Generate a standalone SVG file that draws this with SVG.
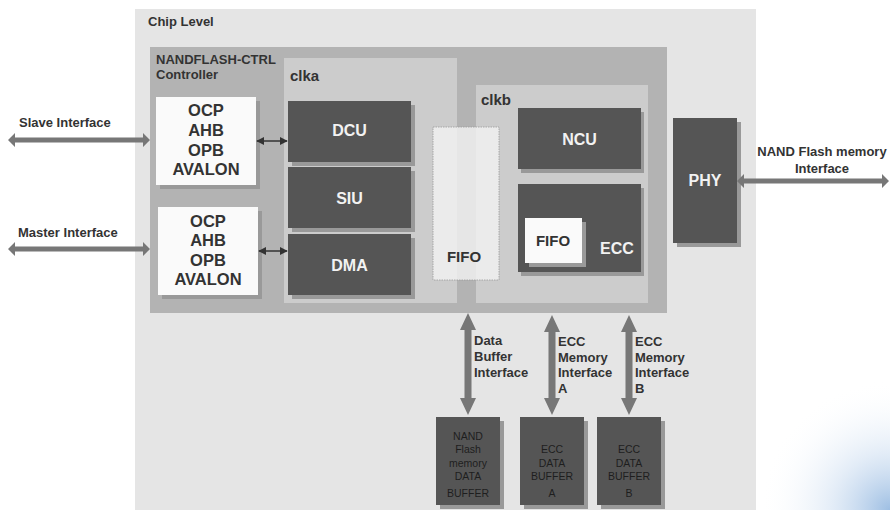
<svg xmlns="http://www.w3.org/2000/svg" width="890" height="510" viewBox="0 0 890 510">
<defs>
<radialGradient id="glow" cx="890" cy="510" r="130" gradientUnits="userSpaceOnUse">
<stop offset="0" stop-color="#8cb3de" stop-opacity="0.85"/>
<stop offset="0.45" stop-color="#c3d7ee" stop-opacity="0.45"/>
<stop offset="1" stop-color="#ffffff" stop-opacity="0"/>
</radialGradient>
<marker id="sa" viewBox="0 0 10 10" refX="9" refY="5" markerWidth="8" markerHeight="8" markerUnits="userSpaceOnUse" orient="auto-start-reverse">
<path d="M0,0 L10,5 L0,10 z" fill="#333"/>
</marker>
</defs>
<style>
text{font-family:"Liberation Sans",Arial,sans-serif;}
.b{font-weight:bold;}
.lbl{font-size:13px;font-weight:bold;fill:#333;}
.dark{fill:#555555;}
.sh{fill:#999999;}
.wt{font-size:16px;font-weight:bold;fill:#f2f2f2;text-anchor:middle;}
.ot{font-size:16.5px;font-weight:bold;fill:#333;text-anchor:middle;}
.ft{font-size:15px;font-weight:bold;fill:#333;text-anchor:middle;}
.bt{font-size:10.5px;fill:#1e1e1e;text-anchor:middle;}
.big{fill:#777777;}
</style>
<rect width="890" height="510" fill="#ffffff"/>
<rect x="756" y="370" width="134" height="140" fill="url(#glow)"/>

<g id="chip">
<rect x="135" y="9" width="621" height="501" fill="#e5e5e5"/>
<text x="148" y="26" class="lbl">Chip Level</text>
</g>

<g id="controller">
<rect x="150" y="47" width="517" height="266" fill="#b3b3b3"/>
<text x="156" y="64" class="lbl">NANDFLASH-CTRL</text>
<text x="156" y="79" class="lbl">Controller</text>
</g>

<g id="clka">
<rect x="284" y="58" width="173" height="245" fill="#cccccc"/>
<text x="290" y="81" class="b" font-size="15" fill="#333">clka</text>
</g>

<g id="clkb">
<rect x="476" y="85" width="172" height="218" fill="#cccccc"/>
<text x="481" y="105" class="b" font-size="15" fill="#333">clkb</text>
</g>

<g id="ocp1">
<rect x="160" y="101" width="100" height="88" class="sh"/>
<rect x="156" y="97" width="100" height="88" fill="#fafafa"/>
<text x="206" y="116" class="ot">OCP</text>
<text x="206" y="136" class="ot">AHB</text>
<text x="206" y="156" class="ot">OPB</text>
<text x="206" y="175" class="ot">AVALON</text>
</g>

<g id="ocp2">
<rect x="162" y="211" width="100" height="88" class="sh"/>
<rect x="158" y="207" width="100" height="88" fill="#fafafa"/>
<text x="208" y="227" class="ot">OCP</text>
<text x="208" y="246" class="ot">AHB</text>
<text x="208" y="266" class="ot">OPB</text>
<text x="208" y="285" class="ot">AVALON</text>
</g>

<g id="dcu">
<rect x="292" y="105" width="123" height="61" class="sh"/>
<rect x="288" y="101" width="123" height="61" class="dark"/>
<text x="349.5" y="136" class="wt">DCU</text>
</g>
<g id="siu">
<rect x="292" y="171" width="123" height="61" class="sh"/>
<rect x="288" y="167" width="123" height="61" class="dark"/>
<text x="349.5" y="204" class="wt">SIU</text>
</g>
<g id="dma">
<rect x="292" y="238" width="123" height="61" class="sh"/>
<rect x="288" y="234" width="123" height="61" class="dark"/>
<text x="349.5" y="271" class="wt">DMA</text>
</g>

<g id="fifo">
<rect x="433" y="127" width="66" height="153" fill="#f2f2f2" fill-opacity="0.8" stroke="#999" stroke-width="0.8" stroke-dasharray="1.5,1"/>
<text x="464" y="262" class="ft">FIFO</text>
</g>

<g id="ncu">
<rect x="521" y="112" width="123" height="61" class="sh"/>
<rect x="518" y="108" width="123" height="61" class="dark"/>
<text x="579.5" y="145" class="wt">NCU</text>
</g>

<g id="ecc">
<rect x="521" y="188" width="123" height="88" class="sh"/>
<rect x="518" y="184" width="123" height="88" class="dark"/>
<rect x="529" y="222" width="57" height="45" class="sh"/>
<rect x="525" y="218" width="57" height="45" fill="#fafafa"/>
<text x="553" y="246" class="ft">FIFO</text>
<text x="617" y="254" class="wt">ECC</text>
</g>

<g id="phy">
<rect x="677" y="122" width="64" height="125" class="sh"/>
<rect x="673" y="118" width="64" height="125" class="dark"/>
<text x="705" y="186" class="wt">PHY</text>
</g>

<g id="buf-nand">
<rect x="440" y="421" width="64" height="88" class="sh"/>
<rect x="436" y="417" width="64" height="88" class="dark"/>
<text x="468" y="440" class="bt">NAND</text>
<text x="468" y="453" class="bt">Flash</text>
<text x="468" y="467" class="bt">memory</text>
<text x="468" y="480" class="bt">DATA</text>
<text x="468" y="497" class="bt">BUFFER</text>
</g>
<g id="buf-a">
<rect x="524" y="421" width="64" height="88" class="sh"/>
<rect x="520" y="417" width="64" height="88" class="dark"/>
<text x="552" y="453" class="bt">ECC</text>
<text x="552" y="467" class="bt">DATA</text>
<text x="552" y="480" class="bt">BUFFER</text>
<text x="552" y="497" class="bt">A</text>
</g>
<g id="buf-b">
<rect x="601" y="421" width="64" height="88" class="sh"/>
<rect x="597" y="417" width="64" height="88" class="dark"/>
<text x="629" y="453" class="bt">ECC</text>
<text x="629" y="467" class="bt">DATA</text>
<text x="629" y="480" class="bt">BUFFER</text>
<text x="629" y="497" class="bt">B</text>
</g>

<g id="connectors">
<line x1="257" y1="141" x2="287" y2="141" stroke="#333" stroke-width="1.5" marker-start="url(#sa)" marker-end="url(#sa)"/>
<line x1="259" y1="251" x2="287" y2="251" stroke="#333" stroke-width="1.5" marker-start="url(#sa)" marker-end="url(#sa)"/>
<path class="big" d="M8,140 L15,133 L15,137.5 L143,137.5 L143,133 L150,140 L143,147 L143,142.5 L15,142.5 L15,147 Z"/>
<path class="big" d="M8,249 L15,242 L15,246.5 L143,246.5 L143,242 L150,249 L143,256 L143,251.5 L15,251.5 L15,256 Z"/>
<path class="big" d="M737,181 L744,174 L744,178.5 L882,178.5 L882,174 L889,181 L882,188 L882,183.5 L744,183.5 L744,188 Z"/>
<path class="big" d="M468,313 L476,330 L471.5,330 L471.5,398 L476,398 L468,415 L460,398 L464.5,398 L464.5,330 L460,330 Z"/>
<path class="big" d="M552,315 L560,332 L555.5,332 L555.5,398 L560,398 L552,415 L544,398 L548.5,398 L548.5,332 L544,332 Z"/>
<path class="big" d="M629,315 L637,332 L632.5,332 L632.5,398 L637,398 L629,415 L621,398 L625.5,398 L625.5,332 L621,332 Z"/>
<text x="19" y="127" class="lbl">Slave Interface</text>
<text x="18" y="237" class="lbl">Master Interface</text>
<text x="822" y="156" class="lbl" text-anchor="middle">NAND Flash memory</text>
<text x="822" y="173" class="lbl" text-anchor="middle">Interface</text>
<text x="474" y="345" class="lbl">Data</text>
<text x="474" y="361" class="lbl">Buffer</text>
<text x="474" y="377" class="lbl">Interface</text>
<text x="558" y="346" class="lbl">ECC</text>
<text x="558" y="362" class="lbl">Memory</text>
<text x="558" y="377" class="lbl">Interface</text>
<text x="558" y="393" class="lbl">A</text>
<text x="635" y="346" class="lbl">ECC</text>
<text x="635" y="362" class="lbl">Memory</text>
<text x="635" y="377" class="lbl">Interface</text>
<text x="635" y="393" class="lbl">B</text>
</g>
</svg>
